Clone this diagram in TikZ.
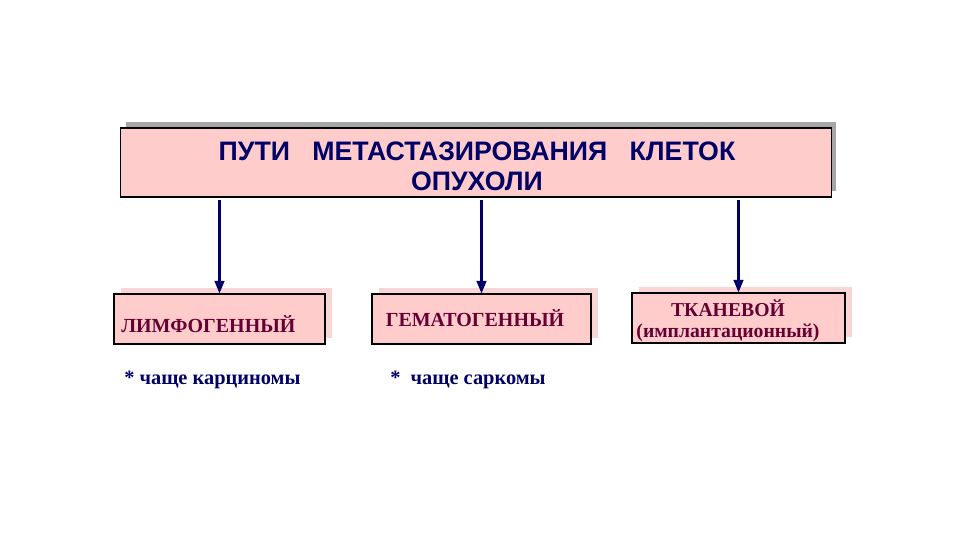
\documentclass[tikz,border=0pt]{standalone}
\usepackage{fontspec}
\setmainfont{Liberation Serif}
\newfontfamily\headfont{Liberation Sans}
\usetikzlibrary{shadows,arrows.meta}
\definecolor{boxpink}{HTML}{FFCCCC}
\definecolor{shadepink}{HTML}{F8D6D6}
\definecolor{shadegray}{HTML}{A6A6A6}
\definecolor{navy}{HTML}{000066}
\definecolor{wine}{HTML}{660033}
\tikzset{
  headbox/.style={draw=black, fill=boxpink, line width=0.8pt,
    drop shadow={shadow xshift=0.125cm, shadow yshift=0.15cm, opacity=1, fill=shadegray}},
  routebox/.style={draw=black, fill=boxpink, line width=0.8pt,
    drop shadow={shadow xshift=0.17cm, shadow yshift=0.15cm, opacity=1, fill=shadepink}},
  routetext/.style={text=wine, font=\fontsize{14.2}{17}\selectfont\bfseries, inner sep=0pt},
  notetext/.style={text=navy, font=\fontsize{14.5}{17}\selectfont\bfseries, inner sep=0pt, anchor=west},
  arr/.style={navy, line width=1.5pt, -{Triangle[length=9pt,width=7pt]}}
}
\begin{document}
\begin{tikzpicture}[x=0.025cm, y=-0.025cm]
\useasboundingbox[fill=white] (0,0) rectangle (960,540);

% заголовок
\node[headbox, minimum width=17.75cm, minimum height=1.725cm] (title) at (476,162.5) {};
\node[text=navy, font=\headfont\fontsize{19}{21.5}\selectfont\bfseries, align=center, inner sep=0pt]
  (titletext) at (477,166) {ПУТИ\ \ \ МЕТАСТАЗИРОВАНИЯ\ \ \ КЛЕТОК\\ОПУХОЛИ};

% три пути
\node[routebox, minimum width=5.275cm, minimum height=1.25cm] (lymph) at (219.5,319) {};
\node[routebox, minimum width=5.475cm, minimum height=1.25cm] (blood) at (481.5,319) {};
\node[routebox, minimum width=5.325cm, minimum height=1.25cm] (tissue) at (738.5,318) {};

\node[routetext, anchor=west] (lymphtext) at (121,324) {ЛИМФОГЕННЫЙ};
\node[routetext] (bloodtext) at (475,318) {ГЕМАТОГЕННЫЙ};
\node[routetext, font=\fontsize{14}{15}\selectfont\bfseries, align=center] (tissuetext) at (728,321)
  {ТКАНЕВОЙ\\(имплантационный)};

% стрелки
\draw[arr] (lymph.north |- title.south) ++(0,2) -- (lymph.north);
\draw[arr] (blood.north |- title.south) ++(0,2) -- (blood.north);
\draw[arr] (tissue.north |- title.south) ++(0,2) -- (tissue.north);

% примечания
\node[notetext] (lymphnote) at (124,380) {* чаще карциномы};
\node[notetext] (bloodnote) at (390,380) {*\ \ чаще саркомы};
\end{tikzpicture}
\end{document}
